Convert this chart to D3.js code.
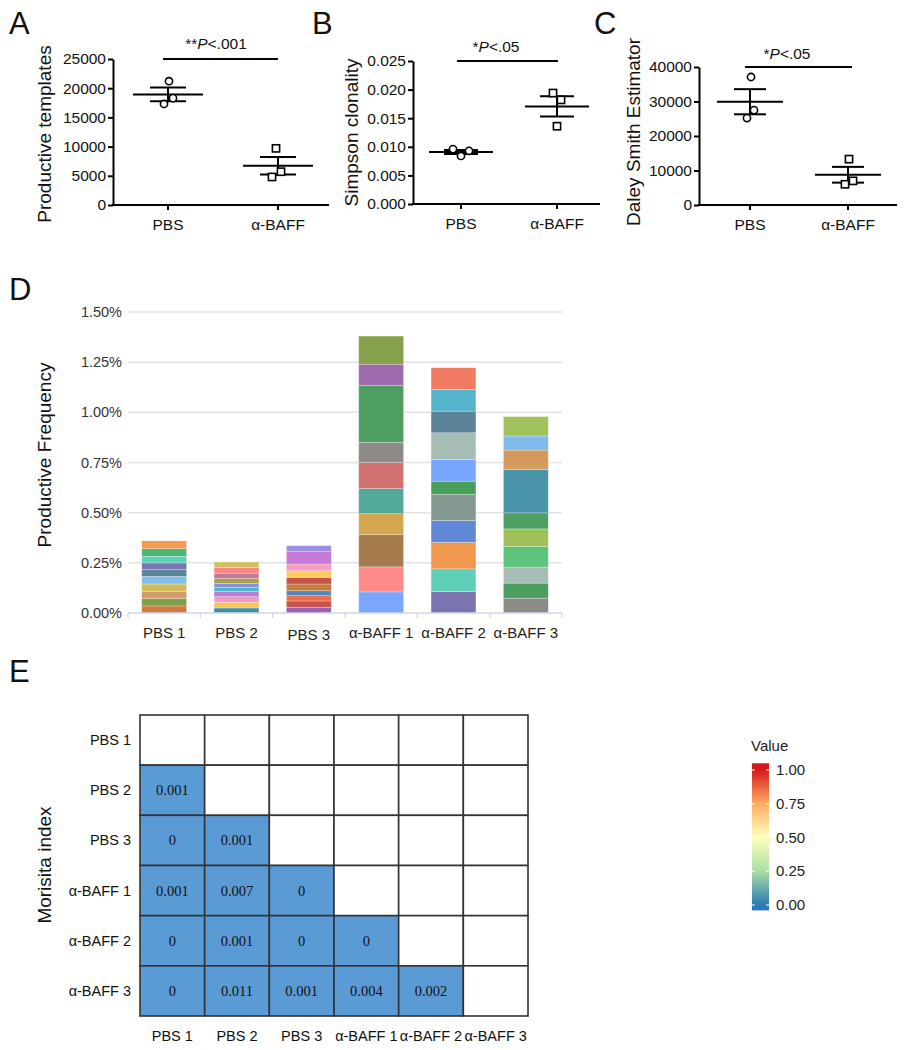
<!DOCTYPE html>
<html><head><meta charset="utf-8">
<script src="https://cdn.jsdelivr.net/npm/d3@7"></script>
<style>body{margin:0;background:#fff}svg{display:block}</style>
</head><body>
<svg id="chart" width="908" height="1050"></svg>
<script>
// ---------- DATA ----------
const groups = ["PBS", "α-BAFF"];
const templatesPBS = [21200, 17300, 18300];
const templatesBAFF = [9700, 4800, 5700];
const simpsonPBS = [0.0096, 0.0084, 0.0093];
const simpsonBAFF = [0.0194, 0.0182, 0.0136];
const daleyPBS = [37100, 25200, 27500];
const daleyBAFF = [13300, 6000, 7000];
const templatesTicks = [0, 5000, 10000, 15000, 20000, 25000];
const simpsonTicks = [0, 0.005, 0.010, 0.015, 0.020, 0.025];
const daleyTicks = [0, 10000, 20000, 30000, 40000];

const samples = ["PBS 1", "PBS 2", "PBS 3", "α-BAFF 1", "α-BAFF 2", "α-BAFF 3"];
// clone frequencies (%) stacked bottom -> top
const freqPBS1 = [0.035, 0.0365, 0.035, 0.038, 0.038, 0.0335, 0.0335, 0.033, 0.0385, 0.0385];
const freqPBS2 = [0.025, 0.0285, 0.028, 0.025, 0.0215, 0.02, 0.025, 0.025, 0.03, 0.0265];
const freqPBS3 = [0.0285, 0.0315, 0.026, 0.025, 0.0335, 0.033, 0.033, 0.0335, 0.0615, 0.03];
const freqBAFF1 = [0.105, 0.125, 0.16, 0.105, 0.125, 0.13, 0.10, 0.285, 0.105, 0.14];
const freqBAFF2 = [0.107, 0.113, 0.132, 0.11, 0.128, 0.067, 0.108, 0.133, 0.108, 0.108, 0.108];
const freqBAFF3 = [0.074, 0.075, 0.08, 0.103, 0.087, 0.08, 0.2165, 0.0965, 0.07, 0.097];
const freqTicks = [0, 0.25, 0.5, 0.75, 1.0, 1.25, 1.5];

// Morisita index, lower triangle (row i vs columns 0..i-1)
const morisita = [
  [],
  [0.001],
  [0, 0.001],
  [0.001, 0.007, 0],
  [0, 0.001, 0, 0],
  [0, 0.011, 0.001, 0.004, 0.002]
];
const legendTicks = [0, 0.25, 0.5, 0.75, 1.0];

// ---------- STYLE ----------
const colsPBS1 = ["#d07a40", "#7ea04a", "#d29c68", "#cdbd5c", "#80c0ea", "#5a869c", "#7b74b0", "#5ecfb8", "#4fb572", "#f29a4e"];
const colsPBS2 = ["#3f8ea8", "#fcc654", "#f59ac4", "#b97fd6", "#4bb8cc", "#8a8fe0", "#a8a24a", "#c47a9c", "#fb8686", "#cfc062"];
const colsPBS3 = ["#9d5fb5", "#c8524c", "#ee6c52", "#4e8ac0", "#c27c3e", "#c8544c", "#fccd5c", "#f69cc0", "#c47ad6", "#9c8fe0"];
const colsBAFF1 = ["#7aa6fc", "#ff8a8a", "#a67c4e", "#d4a650", "#52a89a", "#d07070", "#8e8a86", "#4e9e62", "#a06aae", "#86a04c"];
const colsBAFF2 = ["#7b74b0", "#60cfb8", "#f0984e", "#6088d4", "#869990", "#4a9e5c", "#77a6ff", "#a6bdb6", "#5b8499", "#56b4cc", "#f07a62"];
const colsBAFF3 = ["#8e8a88", "#4c9e60", "#a6bdb5", "#5ec47c", "#a0c05a", "#4ea064", "#4a94aa", "#d49a5e", "#80bbeb", "#a0c25a"];

const sans = "'Liberation Sans', Arial, sans-serif";
const serif = "'Liberation Serif', 'Times New Roman', serif";
const svg = d3.select("#chart");

// ---------- PANELS A-C ----------
function dotPanel(cfg) {
  const g = svg.append("g");
  const y = d3.scaleLinear().domain(cfg.domain).range([cfg.y0, cfg.y1]);
  const x = d3.scalePoint().domain(groups).range(cfg.xr);
  // y axis
  const ya = g.append("g").attr("transform", `translate(${cfg.ax},0)`)
    .call(d3.axisLeft(y).tickValues(cfg.ticks).tickFormat(cfg.fmt).tickSize(5).tickSizeOuter(0));
  ya.select(".domain").attr("stroke", "#000").attr("stroke-width", 2);
  ya.selectAll(".tick line").attr("stroke", "#000").attr("stroke-width", 2);
  ya.selectAll(".tick text").attr("font-family", sans).attr("font-size", 15.5).attr("fill", "#111").attr("x", -7);
  // x axis
  g.append("line").attr("x1", cfg.ax - 1).attr("x2", cfg.axEnd).attr("y1", cfg.y0).attr("y2", cfg.y0)
    .attr("stroke", "#000").attr("stroke-width", 2);
  groups.forEach(k => {
    g.append("line").attr("x1", x(k)).attr("x2", x(k)).attr("y1", cfg.y0).attr("y2", cfg.y0 + 5)
      .attr("stroke", "#000").attr("stroke-width", 2);
    g.append("text").attr("x", x(k)).attr("y", cfg.y0 + 25).attr("text-anchor", "middle")
      .attr("font-family", sans).attr("font-size", 15.5).attr("fill", "#111").text(k);
  });
  // y title
  g.append("text").attr("transform", `translate(${cfg.titleX},${(cfg.y0 + cfg.y1) / 2 + cfg.titleDy}) rotate(-90)`)
    .attr("text-anchor", "middle").attr("font-family", sans).attr("font-size", 19).attr("fill", "#111").text(cfg.title);
  // panel letter
  g.append("text").attr("x", cfg.letterX).attr("y", 34).attr("font-family", sans).attr("font-size", 31)
    .attr("fill", "#111").text(cfg.letter);
  // data
  [cfg.a, cfg.b].forEach((vals, gi) => {
    const cx = x(groups[gi]);
    const m = d3.mean(vals), sem = d3.deviation(vals) / Math.sqrt(vals.length);
    const line = (x1, x2, y1, y2) => g.append("line").attr("x1", x1).attr("x2", x2).attr("y1", y1).attr("y2", y2)
      .attr("stroke", "#000").attr("stroke-width", 2);
    line(cx - cfg.mw, cx + cfg.mw, y(m), y(m));
    line(cx - cfg.sw, cx + cfg.sw, y(m + sem), y(m + sem));
    line(cx - cfg.sw, cx + cfg.sw, y(m - sem), y(m - sem));
    line(cx, cx, y(m + sem), y(m - sem));
    vals.forEach((v, i) => {
      const px = cx + cfg.jit[gi][i];
      if (gi === 0) {
        g.append("circle").attr("cx", px).attr("cy", y(v)).attr("r", 3.6)
          .attr("fill", "#fff").attr("stroke", "#000").attr("stroke-width", 1.6);
      } else {
        g.append("rect").attr("x", px - 3.6).attr("y", y(v) - 3.6).attr("width", 7.2).attr("height", 7.2)
          .attr("fill", "#fff").attr("stroke", "#000").attr("stroke-width", 1.6);
      }
    });
  });
  // significance
  g.append("line").attr("x1", cfg.sig[0]).attr("x2", cfg.sig[1]).attr("y1", y(cfg.domain[1])).attr("y2", y(cfg.domain[1]))
    .attr("stroke", "#000").attr("stroke-width", 2);
  const t = g.append("text").attr("x", cfg.sigTextX).attr("y", cfg.sigTextY).attr("text-anchor", "middle")
    .attr("font-family", sans).attr("font-size", 15.5).attr("fill", "#111");
  t.append("tspan").text(cfg.stars);
  t.append("tspan").attr("font-style", "italic").text("P");
  t.append("tspan").text(cfg.ptext);
}

dotPanel({ letter: "A", letterX: 9, domain: [0, 25000], y0: 205, y1: 59, ax: 113, axEnd: 329, xr: [168, 278],
  ticks: templatesTicks, fmt: d3.format("d"), title: "Productive templates", titleX: 51, titleDy: 2,
  a: templatesPBS, b: templatesBAFF, jit: [[1, -4, 5], [-2, -6, 3]], mw: 35, sw: 18,
  sig: [163, 278], sigTextX: 216, sigTextY: 49, stars: "**", ptext: "<.001" });
dotPanel({ letter: "B", letterX: 312, domain: [0, 0.025], y0: 204, y1: 61, ax: 413, axEnd: 600, xr: [461, 557],
  ticks: simpsonTicks, fmt: d3.format(".3f"), title: "Simpson clonality", titleX: 358, titleDy: 0,
  a: simpsonPBS, b: simpsonBAFF, jit: [[-8, 0, 8], [-4, 4, 0]], mw: 32, sw: 17,
  sig: [457, 558], sigTextX: 496, sigTextY: 52, stars: "*", ptext: "<.05" });
dotPanel({ letter: "C", letterX: 594, domain: [0, 40000], y0: 205, y1: 67, ax: 699, axEnd: 897, xr: [750, 848],
  ticks: daleyTicks, fmt: d3.format("d"), title: "Daley Smith Estimator", titleX: 640, titleDy: -4,
  a: daleyPBS, b: daleyBAFF, jit: [[1, -3, 4], [1, -3, 5]], mw: 33, sw: 16,
  sig: [745, 852], sigTextX: 787, sigTextY: 59, stars: "*", ptext: "<.05" });

// ---------- PANEL D ----------
(function () {
  const g = svg.append("g");
  const y = d3.scaleLinear().domain([0, 1.5]).range([613, 312]);
  const x = d3.scaleBand().domain(samples).range([128, 562]).paddingInner(0.38).paddingOuter(0.19);
  const stacks = [freqPBS1, freqPBS2, freqPBS3, freqBAFF1, freqBAFF2, freqBAFF3];
  const cols = [colsPBS1, colsPBS2, colsPBS3, colsBAFF1, colsBAFF2, colsBAFF3];
  // grid
  freqTicks.forEach(t => {
    if (t > 0) g.append("line").attr("x1", 128).attr("x2", 562).attr("y1", y(t)).attr("y2", y(t))
      .attr("stroke", "#e2e2e2").attr("stroke-width", 1.5);
    g.append("text").attr("x", 122).attr("y", y(t) + 5).attr("text-anchor", "end")
      .attr("font-family", sans).attr("font-size", 14.5).attr("fill", "#333").text(d3.format(".2f")(t) + "%");
  });
  // bars
  stacks.forEach((vals, si) => {
    let acc = 0;
    vals.forEach((v, i) => {
      g.append("rect").attr("x", x(samples[si])).attr("width", x.bandwidth())
        .attr("y", y(acc + v)).attr("height", y(acc) - y(acc + v))
        .attr("fill", cols[si][i % cols[si].length]).attr("stroke", "#fff").attr("stroke-opacity", 0.45).attr("stroke-width", 0.6);
      acc += v;
    });
  });
  // x axis
  g.append("line").attr("x1", 128).attr("x2", 562).attr("y1", 613).attr("y2", 613).attr("stroke", "#ccd6eb").attr("stroke-width", 1.5);
  d3.range(7).forEach(i => {
    const xx = 128 + i * (434 / 6);
    g.append("line").attr("x1", xx).attr("x2", xx).attr("y1", 613).attr("y2", 618).attr("stroke", "#ccd6eb").attr("stroke-width", 1.2);
  });
  samples.forEach((s, i) => {
    g.append("text").attr("x", x(s) + x.bandwidth() / 2).attr("y", 638 + (i === 2 ? 2 : 0)).attr("text-anchor", "middle")
      .attr("font-family", sans).attr("font-size", 15).attr("fill", "#222").text(s);
  });
  g.append("text").attr("transform", "translate(51,455) rotate(-90)").attr("text-anchor", "middle")
    .attr("font-family", sans).attr("font-size", 19).attr("fill", "#111").text("Productive Frequency");
  g.append("text").attr("x", 9).attr("y", 300).attr("font-family", sans).attr("font-size", 31).attr("fill", "#111").text("D");
})();

// ---------- PANEL E ----------
(function () {
  const g = svg.append("g");
  const x = d3.scaleBand().domain(samples).range([140, 528]);
  const y = d3.scaleBand().domain(samples).range([715, 1016]);
  samples.forEach((r, i) => {
    samples.forEach((c, j) => {
      const filled = j < i;
      g.append("rect").attr("x", x(c)).attr("y", y(r)).attr("width", x.bandwidth()).attr("height", y.bandwidth())
        .attr("fill", filled ? "#5b9bd5" : "#fff").attr("stroke", "#333").attr("stroke-width", 1.6);
      if (filled) {
        g.append("text").attr("x", x(c) + x.bandwidth() / 2).attr("y", y(r) + y.bandwidth() / 2 + 5)
          .attr("text-anchor", "middle").attr("font-family", serif).attr("font-size", 14.5).attr("fill", "#111")
          .text(String(morisita[i][j]));
      }
    });
    g.append("text").attr("x", 131).attr("y", y(r) + y.bandwidth() / 2 + 5).attr("text-anchor", "end")
      .attr("font-family", sans).attr("font-size", 14.5).attr("fill", "#111").text(r);
    g.append("text").attr("x", x(r) + x.bandwidth() / 2).attr("y", 1041).attr("text-anchor", "middle")
      .attr("font-family", sans).attr("font-size", 14.5).attr("fill", "#111").text(r);
  });
  g.append("text").attr("transform", "translate(51,865) rotate(-90)").attr("text-anchor", "middle")
    .attr("font-family", sans).attr("font-size", 19).attr("fill", "#111").text("Morisita index");
  g.append("text").attr("x", 9).attr("y", 682).attr("font-family", sans).attr("font-size", 31).attr("fill", "#111").text("E");

  // legend
  const ly = d3.scaleLinear().domain([0, 1]).range([905, 770]);
  const stops = [[0, "#2c7bb6"], [0.25, "#abdda4"], [0.5, "#ffffbf"], [0.75, "#fdae61"], [1, "#d7191c"]];
  const grad = svg.append("defs").append("linearGradient").attr("id", "lg").attr("x1", 0).attr("x2", 0).attr("y1", 1).attr("y2", 0);
  const lo = -0.04, hi = 1.05;
  stops.forEach(s => grad.append("stop").attr("offset", (s[0] - lo) / (hi - lo)).attr("stop-color", s[1]));
  g.append("rect").attr("x", 752).attr("y", ly(hi)).attr("width", 17).attr("height", ly(lo) - ly(hi)).attr("fill", "url(#lg)");
  legendTicks.forEach(t => {
    g.append("line").attr("x1", 752).attr("x2", 755).attr("y1", ly(t)).attr("y2", ly(t)).attr("stroke", "#fff").attr("stroke-width", 1);
    g.append("line").attr("x1", 766).attr("x2", 769).attr("y1", ly(t)).attr("y2", ly(t)).attr("stroke", "#fff").attr("stroke-width", 1);
    g.append("text").attr("x", 776).attr("y", ly(t) + 5).attr("font-family", sans).attr("font-size", 15).attr("fill", "#222")
      .text(d3.format(".2f")(t));
  });
  g.append("text").attr("x", 751).attr("y", 751).attr("font-family", sans).attr("font-size", 15).attr("fill", "#222").text("Value");
})();
</script>
</body></html>
